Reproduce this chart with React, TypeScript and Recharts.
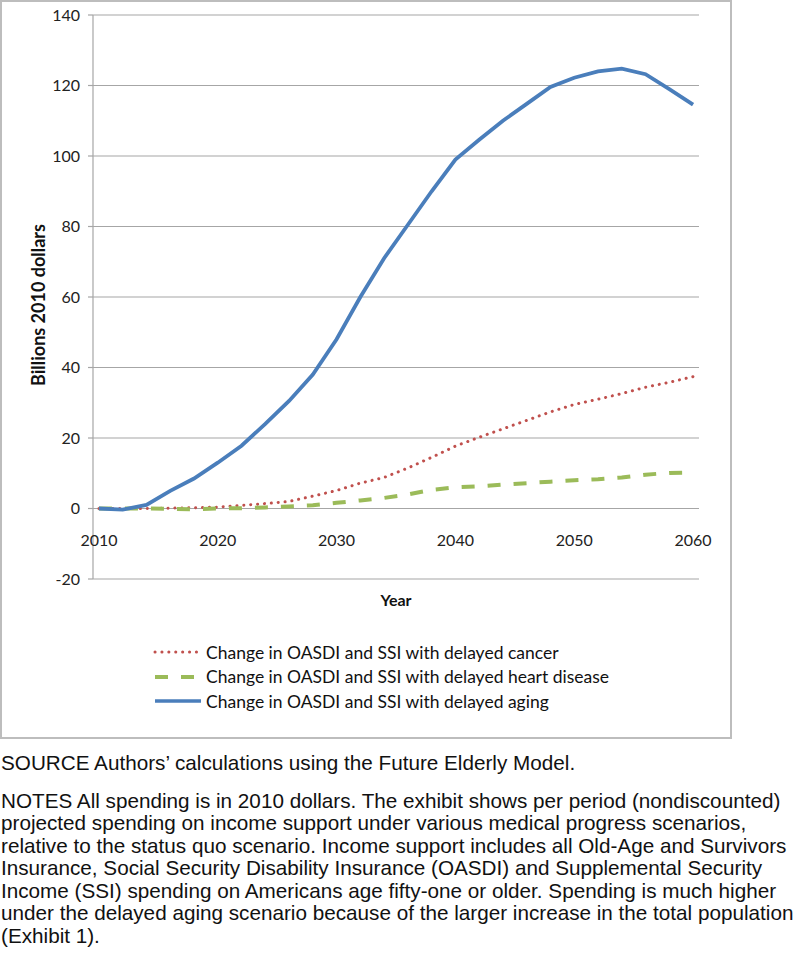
import React from 'react';
import { LineChart, Line, XAxis, YAxis, CartesianGrid, Legend } from 'recharts';

const years = [2010, 2012, 2014, 2016, 2018, 2020, 2022, 2024, 2026, 2028, 2030, 2032, 2034, 2036, 2038, 2040, 2042, 2044, 2046, 2048, 2050, 2052, 2054, 2056, 2058, 2060];
const cancer = [0, 0, 0, 0.1, 0.2, 0.4, 0.9, 1.4, 2.0, 3.5, 5.1, 7.2, 8.8, 11.5, 14.5, 17.7, 20.2, 22.6, 25.0, 27.4, 29.5, 31.0, 32.6, 34.4, 35.8, 37.4];
const heart = [0, 0, 0, -0.1, -0.2, 0, 0.1, 0.3, 0.6, 0.9, 1.6, 2.3, 3.0, 4.0, 5.3, 6.0, 6.3, 6.8, 7.2, 7.6, 8.0, 8.3, 8.8, 9.6, 10.1, 10.2];
const aging = [0, -0.3, 1.0, 5.0, 8.5, 13.0, 17.8, 24.0, 30.5, 38.0, 48.0, 60.0, 71.0, 80.5, 90.0, 99.0, 104.6, 110.0, 114.8, 119.6, 122.2, 124.0, 124.8, 123.2, 119.0, 114.6];

const yTicks = [-20, 0, 20, 40, 60, 80, 100, 120, 140];
const xTicks = [2010, 2020, 2030, 2040, 2050, 2060];
const yDomain = [-20, 140];

const seriesNames = {
  cancer: 'Change in OASDI and SSI with delayed cancer',
  heart: 'Change in OASDI and SSI with delayed heart disease',
  aging: 'Change in OASDI and SSI with delayed aging',
};

const sourceText = 'SOURCE Authors\u2019 calculations using the Future Elderly Model.';
const notesLines = [
  'NOTES All spending is in 2010 dollars. The exhibit shows per period (nondiscounted)',
  'projected spending on income support under various medical progress scenarios,',
  'relative to the status quo scenario. Income support includes all Old-Age and Survivors',
  'Insurance, Social Security Disability Insurance (OASDI) and Supplemental Security',
  'Income (SSI) spending on Americans age fifty-one or older. Spending is much higher',
  'under the delayed aging scenario because of the larger increase in the total population',
  '(Exhibit 1).',
];

const data = years.map((y, i) => ({ year: y, cancer: cancer[i], heart: heart[i], aging: aging[i] }));

const CHART_W = 731;
const CHART_H = 737;
const MARGIN = { top: 15, right: 32, bottom: 128, left: 0 };
const X_AXIS_H = 30;
const PLOT_H = CHART_H - MARGIN.top - MARGIN.bottom - X_AXIS_H;

const FONT = 'Lato, "Open Sans", sans-serif';
const GRID = '#a6a6a6';

const XTick = (props: any) => {
  const { x, y, payload } = props;
  // labels sit under the zero line (axis crosses at 0)
  const zeroShift = PLOT_H * (0 - yDomain[0]) / (yDomain[1] - yDomain[0]);
  return (
    <text x={x} y={y - zeroShift + 29} textAnchor="middle" fontSize={16} fontFamily={FONT} fill="#222">
      {payload.value}
    </text>
  );
};

const YTitle = (props: any) => {
  const { viewBox } = props;
  const cx = viewBox.x + 38;
  const cy = viewBox.y + viewBox.height / 2 + 8;
  return (
    <text x={cx} y={cy} transform={`rotate(-90, ${cx}, ${cy})`} textAnchor="middle" dominantBaseline="central"
      fontFamily={FONT} fontSize={18} fontWeight={700} fill="#111">
      Billions 2010 dollars
    </text>
  );
};

const LegendContent = () => {
  const items = [
    { key: 'cancer', color: '#c0504d', dash: '0.1 6.8', width: 3, cap: 'round' },
    { key: 'heart', color: '#9bbb59', dash: '13 13', width: 4, cap: 'butt' },
    { key: 'aging', color: '#4a7ebb', dash: undefined, width: 3.5, cap: 'butt' },
  ];
  return (
    <div style={{ fontFamily: FONT, fontSize: 17.5, color: '#111' }}>
      {items.map((it) => (
        <div key={it.key} style={{ display: 'flex', alignItems: 'center', height: 24.5 }}>
          <svg width={50} height={10} style={{ marginRight: 3 }}>
            <line x1={2} y1={5} x2={48} y2={5} stroke={it.color} strokeWidth={it.width}
              strokeDasharray={it.dash} strokeLinecap={it.cap as any} />
          </svg>
          <span>{(seriesNames as any)[it.key]}</span>
        </div>
      ))}
    </div>
  );
};

export default function App() {
  return (
    <div style={{ position: 'absolute', left: 0, top: 0, width: 800, height: 953, background: '#fff', overflow: 'hidden' }}>
      <div style={{ position: 'absolute', left: 0, top: 0, width: CHART_W - 3, height: CHART_H - 2, border: '2px solid #bdbdbd', boxSizing: 'content-box' }} />
      <div style={{ position: 'absolute', left: 0, top: 0 }}>
        <LineChart width={CHART_W} height={CHART_H} data={data} margin={MARGIN}>
          <CartesianGrid vertical={false} stroke={GRID} strokeWidth={1.2} />
          <XAxis dataKey="year" type="number" domain={[2009.5, 2060.5]} ticks={xTicks}
            axisLine={false} tickLine={false} tick={<XTick />} height={X_AXIS_H} interval={0}
            label={{ value: 'Year', position: 'insideBottom', offset: 3, style: { fontFamily: FONT, fontSize: 16, fontWeight: 700, fill: '#111' } }} />
          <YAxis domain={yDomain} ticks={yTicks} width={93} interval={0}
            axisLine={{ stroke: GRID, strokeWidth: 1.2 }} tickLine={{ stroke: GRID, strokeWidth: 1.2 }} tickSize={5} tickMargin={8}
            tick={{ fontFamily: FONT, fontSize: 16, fill: '#222' }}
            label={<YTitle />} />
          <Line dataKey="cancer" name={seriesNames.cancer} stroke="#c0504d" strokeWidth={3} strokeDasharray="0.1 6.8" strokeLinecap="round" dot={false} isAnimationActive={false} />
          <Line dataKey="heart" name={seriesNames.heart} stroke="#9bbb59" strokeWidth={4} strokeDasharray="13 13" dot={false} isAnimationActive={false} />
          <Line dataKey="aging" name={seriesNames.aging} stroke="#4a7ebb" strokeWidth={3.8} dot={false} isAnimationActive={false} />
          <Legend layout="vertical" align="center" verticalAlign="middle" content={<LegendContent />}
            wrapperStyle={{ left: 153, top: 640, width: 'auto', height: 'auto' }} />
        </LineChart>
      </div>
      <div style={{ position: 'absolute', left: 1, top: 751.5, width: 799, fontFamily: '"Liberation Sans", Arial, sans-serif', fontSize: 20.7, color: '#111', lineHeight: '22.5px', whiteSpace: 'nowrap' }}>
        <div>{sourceText}</div>
        <div style={{ marginTop: 15.5 }}>
          {notesLines.map((l, i) => <div key={i}>{l}</div>)}
        </div>
      </div>
    </div>
  );
}
